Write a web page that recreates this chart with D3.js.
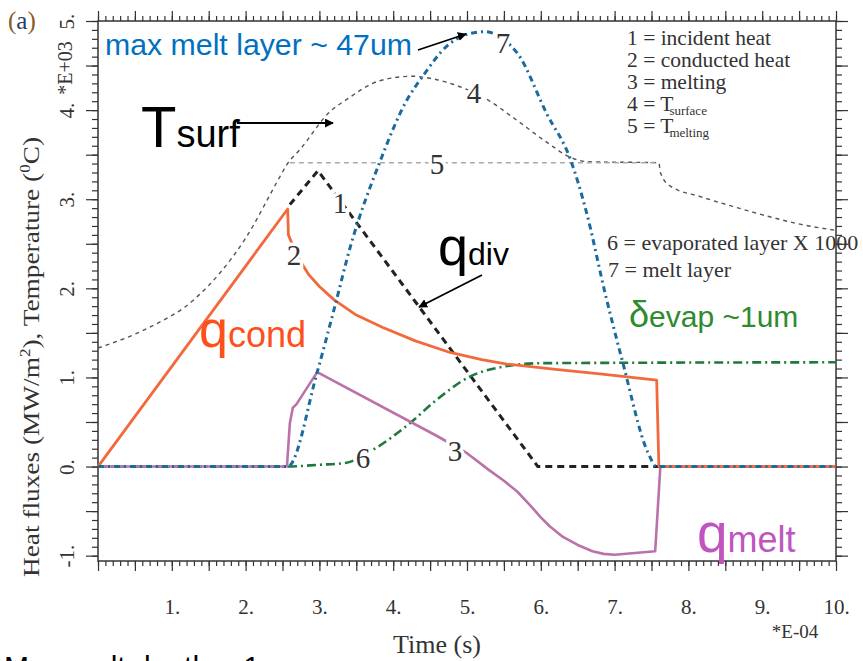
<!DOCTYPE html>
<html>
<head>
<meta charset="UTF-8">
<title>Heat fluxes</title>
<script src="https://d3js.org/d3.v7.min.js"></script>
<style>
    body { margin: 0; background: #fff; }
    svg { display: block; }
    .serif { font-family: "Liberation Serif", "Times New Roman", serif; }
    .sans { font-family: "Liberation Sans", Arial, sans-serif; }
</style>
</head>
<body>
<svg id="chart" width="863" height="661"></svg>
<script>
    // time in units of 1E-4 s, values in MW/m2 or 1E+03 C
    const incidentT = [2.6, 2.98, 5.96, 7.6];
    const incidentQ = [2.94, 3.32, 0, 0];

    const conductedT = [0, 2.57, 2.58, 2.7, 2.85, 3.0, 3.2, 3.5, 3.86, 4.3, 4.77, 5.2, 5.54, 6.2, 6.8, 7.57, 7.6, 10];
    const conductedQ = [0, 2.89, 2.6, 2.36, 2.16, 2.02, 1.87, 1.7, 1.56, 1.41, 1.28, 1.2, 1.15, 1.09, 1.04, 0.97, 0, 0];

    const meltingT = [0, 2.56, 2.6, 2.64, 2.69, 2.97, 4.6, 5.0, 5.3, 5.5, 5.68, 5.85, 6.0, 6.12, 6.3, 6.5, 6.7, 6.85, 7.0, 7.55, 7.62, 10];
    const meltingQ = [0, 0, 0.49, 0.66, 0.70, 1.06, 0.34, 0.15, -0.04, -0.16, -0.28, -0.43, -0.57, -0.67, -0.79, -0.88, -0.95, -0.98, -0.99, -0.95, 0, 0];

    const surfT = [0, 0.64, 1.31, 1.99, 2.47, 2.56, 2.74, 3.14, 3.37, 3.82, 4.27, 4.54, 4.81, 5.27, 5.62, 6.08, 6.4, 6.65, 7.6, 7.62, 7.75, 8.16, 8.6, 9.07, 9.51, 10];
    const surfTemp = [1.33, 1.54, 1.88, 2.55, 3.26, 3.39, 3.56, 3.98, 4.12, 4.33, 4.38, 4.35, 4.29, 4.12, 3.92, 3.64, 3.47, 3.42, 3.41, 3.3, 3.15, 3.03, 2.92, 2.81, 2.72, 2.65];

    const meltTempT = [2.6, 7.6];
    const meltTemp = [3.41, 3.41];

    const evapT = [0, 2.57, 3.0, 3.35, 3.73, 4.23, 4.59, 5.04, 5.49, 6.0, 10];
    const evapLayer = [0, 0, 0.02, 0.04, 0.19, 0.49, 0.75, 1.01, 1.12, 1.16, 1.17];

    const meltLayerT = [0, 2.57, 2.97, 3.21, 3.41, 3.82, 4.19, 4.4, 4.73, 5.0, 5.25, 5.5, 5.69, 6.08, 6.4, 6.62, 6.87, 7.11, 7.45, 7.57, 10];
    const meltLayer = [0, 0, 1.06, 1.8, 2.44, 3.42, 4.12, 4.38, 4.72, 4.85, 4.88, 4.79, 4.63, 3.96, 3.45, 2.85, 1.95, 1.17, 0.16, 0, 0];

    const xTickLabels = [1, 2, 3, 4, 5, 6, 7, 8, 9, 10];
    const yTickLabels = [-1, 0, 1, 2, 3, 4, 5];

    const legendTop = ["1 = incident heat", "2 = conducted heat", "3 = melting"];

    const svg = d3.select("#chart");
    const plotLeft = 98, plotRight = 836, plotTop = 21, plotBottom = 561;

    const x = d3.scaleLinear().domain([0, 10]).range([plotLeft, plotRight]);
    const y = d3.scaleLinear().domain([-1.06, 5]).range([plotBottom, plotTop]);

    // axes: minor and major ticks on all four sides, pointing outwards
    const minorX = d3.range(0, 10.001, 0.1);
    const majorX = d3.range(0, 10.001, 0.5);
    const minorY = d3.range(-1, 5.001, 0.1);
    const majorY = d3.range(-1, 5.001, 0.5);

    function tickAxis(axisFn, scale, values, size, transform) {
        const g = svg.append("g")
            .attr("transform", transform)
            .call(axisFn(scale).tickValues(values).tickSize(size).tickFormat(""));
        g.select(".domain").remove();
        g.selectAll("line").attr("stroke", "#333").attr("stroke-width", 1.2);
    }
    tickAxis(d3.axisBottom, x, minorX, 5, `translate(0,${plotBottom})`);
    tickAxis(d3.axisBottom, x, majorX, 10, `translate(0,${plotBottom})`);
    tickAxis(d3.axisTop, x, minorX, 5, `translate(0,${plotTop})`);
    tickAxis(d3.axisTop, x, majorX, 10, `translate(0,${plotTop})`);
    tickAxis(d3.axisLeft, y, minorY, 6, `translate(${plotLeft},0)`);
    tickAxis(d3.axisLeft, y, majorY, 12, `translate(${plotLeft},0)`);
    tickAxis(d3.axisRight, y, minorY, 6, `translate(${plotRight},0)`);
    tickAxis(d3.axisRight, y, majorY, 12, `translate(${plotRight},0)`);

    svg.append("rect")
        .attr("x", plotLeft).attr("y", plotTop)
        .attr("width", plotRight - plotLeft).attr("height", plotBottom - plotTop)
        .attr("fill", "none").attr("stroke", "#333").attr("stroke-width", 1.5);

    // tick labels
    const xLab = svg.append("g")
        .attr("transform", `translate(0,${plotBottom})`)
        .call(d3.axisBottom(x).tickValues(xTickLabels).tickSize(0).tickFormat(d => d + "."));
    xLab.select(".domain").remove();
    xLab.selectAll("text")
        .attr("class", "serif")
        .attr("font-size", 21)
        .attr("fill", "#333")
        .attr("dy", 0)
        .attr("y", 53);

    const yLab = svg.append("g")
        .attr("transform", `translate(${plotLeft},0)`)
        .call(d3.axisLeft(y).tickValues(yTickLabels).tickSize(0).tickFormat(d => d + "."));
    yLab.select(".domain").remove();
    yLab.selectAll("text")
        .attr("class", "serif")
        .attr("font-size", 21)
        .attr("fill", "#333")
        .attr("text-anchor", "middle")
        .attr("transform", "rotate(-90)")
        .attr("x", 0)
        .attr("y", -24)
        .attr("dy", 0);

    svg.append("text")
        .attr("class", "serif")
        .attr("transform", "translate(72,68) rotate(-90)")
        .attr("text-anchor", "middle")
        .attr("font-size", 20)
        .attr("fill", "#333")
        .text("*E+03");

    const yTitle = svg.append("text")
        .attr("class", "serif")
        .attr("transform", "translate(39,577) rotate(-90)")
        .attr("font-size", 24)
        .attr("fill", "#333")
        .attr("textLength", 440)
        .attr("lengthAdjust", "spacingAndGlyphs");
    yTitle.append("tspan").text("Heat fluxes (MW/m");
    yTitle.append("tspan").attr("font-size", 15).attr("dy", -9).text("2");
    yTitle.append("tspan").attr("dy", 9).text("), Temperature (");
    yTitle.append("tspan").attr("font-size", 15).attr("dy", -9).text("0");
    yTitle.append("tspan").attr("dy", 9).text("C)");

    svg.append("text")
        .attr("class", "serif")
        .attr("x", 437).attr("y", 653)
        .attr("text-anchor", "middle")
        .attr("font-size", 26)
        .attr("fill", "#333")
        .text("Time (s)");

    svg.append("text")
        .attr("class", "serif")
        .attr("x", 795).attr("y", 638)
        .attr("text-anchor", "middle")
        .attr("font-size", 19)
        .attr("fill", "#333")
        .text("*E-04");

    const panel = svg.append("text")
        .attr("class", "serif")
        .attr("x", 8).attr("y", 29)
        .attr("font-size", 25);
    panel.append("tspan").attr("fill", "#8a5a2a").text("(");
    panel.append("tspan").attr("fill", "#2b3a66").text("a");
    panel.append("tspan").attr("fill", "#8a5a2a").text(")");

    // curves
    function drawCurve(ts, vs, color, width, dash, curve) {
        const pts = ts.map((t, i) => [t, vs[i]]);
        const line = d3.line()
            .x(d => x(d[0]))
            .y(d => y(d[1]))
            .curve(curve || d3.curveLinear);
        svg.append("path")
            .datum(pts)
            .attr("fill", "none")
            .attr("stroke", color)
            .attr("stroke-width", width)
            .attr("stroke-dasharray", dash)
            .attr("stroke-linejoin", "round")
            .attr("d", line);
    }

    drawCurve(surfT, surfTemp, "#555", 1.4, "4,4", d3.curveMonotoneX);
    drawCurve(meltTempT, meltTemp, "#aaa", 1.6, "5,4");
    drawCurve(incidentT, incidentQ, "#222", 3, "7,5");
    drawCurve(evapT, evapLayer, "#1e7a3c", 2.6, "9,4,2,4", d3.curveMonotoneX);
    drawCurve(meltingT, meltingQ, "#bb72aa", 2.6, null);
    drawCurve(conductedT, conductedQ, "#f26a3c", 2.8, null);
    drawCurve(meltLayerT, meltLayer, "#1b6c9c", 3, "6,4,2,4", d3.curveMonotoneX);

    // curve number labels, white halo gives the gap in the lines
    const curveLabels = [
        { t: "1", px: 340, py: 213 },
        { t: "2", px: 294, py: 265 },
        { t: "3", px: 455, py: 461 },
        { t: "4", px: 474, py: 103 },
        { t: "5", px: 437, py: 174 },
        { t: "6", px: 363, py: 468 },
        { t: "7", px: 503, py: 53 }
    ];
    svg.selectAll("text.num")
        .data(curveLabels)
        .enter()
        .append("text")
        .attr("class", "num serif")
        .attr("x", d => d.px).attr("y", d => d.py)
        .attr("text-anchor", "middle")
        .attr("font-size", 29)
        .attr("fill", "#333")
        .attr("stroke", "#fff")
        .attr("stroke-width", 7)
        .attr("paint-order", "stroke")
        .text(d => d.t);

    // legend
    svg.selectAll("text.leg")
        .data(legendTop)
        .enter()
        .append("text")
        .attr("class", "leg serif")
        .attr("x", 627)
        .attr("y", (d, i) => 45 + i * 22)
        .attr("font-size", 21.5)
        .attr("fill", "#333")
        .text(d => d);

    [["4 = T", "surface", 111], ["5 = T", "melting", 133]].forEach(r => {
        const t = svg.append("text")
            .attr("class", "serif")
            .attr("x", 627).attr("y", r[2])
            .attr("font-size", 21.5)
            .attr("fill", "#333");
        t.append("tspan").text(r[0]);
        t.append("tspan").attr("font-size", 13).attr("dx", -4).attr("dy", 4).text(r[1]);
    });

    svg.append("text")
        .attr("class", "serif")
        .attr("x", 607).attr("y", 250)
        .attr("font-size", 22)
        .attr("fill", "#333")
        .text("6 = evaporated layer X 1000");
    svg.append("text")
        .attr("class", "serif")
        .attr("x", 608).attr("y", 277)
        .attr("font-size", 22)
        .attr("fill", "#333")
        .text("7 = melt layer");

    // annotations
    svg.append("defs").append("marker")
        .attr("id", "arrow")
        .attr("viewBox", "0 0 10 10")
        .attr("refX", 9).attr("refY", 5)
        .attr("markerWidth", 9).attr("markerHeight", 9)
        .attr("markerUnits", "userSpaceOnUse")
        .attr("orient", "auto")
        .append("path")
        .attr("d", "M0,0 L10,5 L0,10 z")
        .attr("fill", "#000");

    function arrow(x1, y1, x2, y2) {
        svg.append("line")
            .attr("x1", x1).attr("y1", y1).attr("x2", x2).attr("y2", y2)
            .attr("stroke", "#000").attr("stroke-width", 1.8)
            .attr("marker-end", "url(#arrow)");
    }

    svg.append("text")
        .attr("class", "sans")
        .attr("x", 105).attr("y", 55)
        .attr("font-size", 30)
        .attr("fill", "#0070c0")
        .attr("textLength", 307)
        .attr("lengthAdjust", "spacingAndGlyphs")
        .text("max melt layer ~ 47um");
    arrow(418, 50, 466, 34);

    const tsurf = svg.append("text").attr("class", "sans").attr("x", 141).attr("y", 147).attr("fill", "#000");
    tsurf.append("tspan").attr("font-size", 58).text("T");
    tsurf.append("tspan").attr("font-size", 38).text("surf");
    arrow(237, 123, 333, 123);

    const qdiv = svg.append("text").attr("class", "sans").attr("x", 438).attr("y", 265).attr("fill", "#000");
    qdiv.append("tspan").attr("font-size", 54).text("q");
    qdiv.append("tspan").attr("font-size", 32).text("div");
    arrow(482, 275, 419, 307);

    const qcond = svg.append("text").attr("class", "sans").attr("x", 199).attr("y", 347).attr("fill", "#ff4f1a");
    qcond.append("tspan").attr("font-size", 52).text("q");
    qcond.append("tspan").attr("font-size", 36).text("cond");

    const devap = svg.append("text").attr("class", "sans").attr("x", 629).attr("y", 327).attr("fill", "#2e8b2e");
    devap.append("tspan").attr("font-size", 36).text("δ");
    devap.append("tspan").attr("font-size", 30).text("evap ~1um");

    const qmelt = svg.append("text").attr("class", "sans").attr("x", 697).attr("y", 552).attr("fill", "#c055c0");
    qmelt.append("tspan").attr("font-size", 55).text("q");
    qmelt.append("tspan").attr("font-size", 36).text("melt");

    svg.append("text")
        .attr("class", "sans")
        .attr("x", 4).attr("y", 677)
        .attr("font-size", 30)
        .attr("fill", "#000")
        .text("Max melt depth ~ 1");
</script>
</body>
</html>
